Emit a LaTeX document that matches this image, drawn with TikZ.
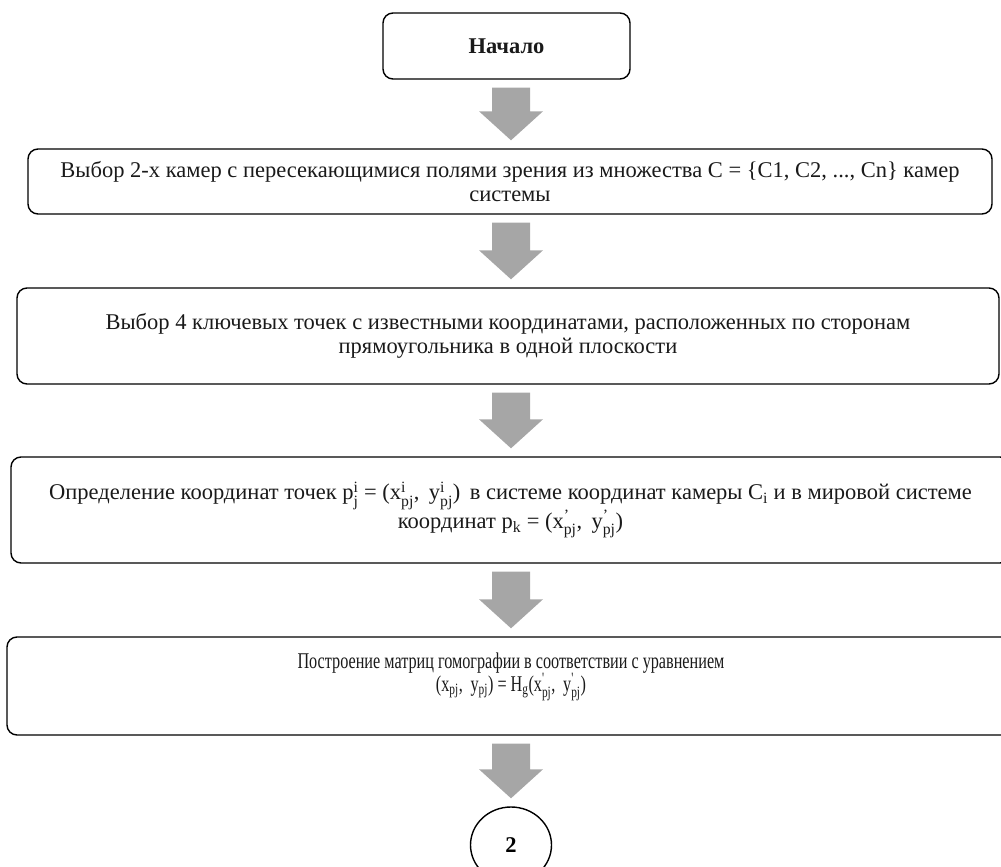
\documentclass[tikz,border=0pt]{standalone}
\definecolor{arrowgray}{HTML}{A6A6A6}
\definecolor{textgray}{HTML}{1A1A1A}
\usepackage{amsmath}
\usepackage{fontspec}
\setmainfont{Liberation Serif}
\newfontfamily\narrowfont[FakeStretch=0.72]{Liberation Serif}
\usetikzlibrary{positioning, shapes.geometric, calc}

% upright sup/sub pair in text font
\newcommand{\supsub}[2]{$^{\text{#1}}_{\text{#2}}$}

\begin{document}
\begin{tikzpicture}[
    x=1pt, y=-1pt,
    stepbox/.style={draw, rounded corners=10pt, line width=1.4pt,
                    align=center, inner sep=0pt, text=textgray,
                    font=\fontsize{22.5}{24}\selectfont},
    connector/.style={draw, ellipse, line width=1.4pt, inner sep=0pt,
                      minimum width=81pt, minimum height=76pt,
                      font=\fontsize{22.5}{24}\selectfont\bfseries},
    blockarrow/.style={fill=arrowgray, draw=none}
  ]
    \useasboundingbox (0,0) rectangle (1001,867);

    % Start
    \node[stepbox, minimum width=247pt, minimum height=66pt] (start)
      at (506.5,46) {\textbf{Начало}};

    % Steps
    \node[stepbox, minimum width=964pt, minimum height=65pt] (S-1)
      at (510,181.5)
      {Выбор 2-х камер с пересекающимися полями зрения из множества C = \{C1, C2, ..., Cn\} камер\\
       системы};
    \node[stepbox, minimum width=982pt, minimum height=96pt] (S-2)
      at (508,336)
      {Выбор 4 ключевых точек с известными координатами, расположенных по сторонам\\
       прямоугольника в одной плоскости};
    \node[stepbox, minimum width=999pt, minimum height=106pt] (S-3)
      at (510.5,510)
      {Определение координат точек p\supsub{i}{j} = (x\supsub{i}{pj},\ \,y\supsub{i}{pj})\ \,в системе координат камеры C$_{\text{i}}$ и в мировой системе\\
       координат p$_{\text{k}}$ = (x\supsub{'}{pj},\ \,y\supsub{'}{pj})};
    \node[stepbox, minimum width=1008pt, minimum height=98pt] (S-4)
      at (511,686)
      {\narrowfont Построение матриц гомографии в соответствии с уравнением\\[-1pt]
       \narrowfont (x$_{\text{pj}}$,\ \,y$_{\text{pj}}$) = H$_{\text{g}}$(x\supsub{'}{pj},\ \,y\supsub{'}{pj})\\[4pt]};

    % Off-page connector
    \node[connector] (next) at (511,845) {2};

    % Block arrows, all on the connector's axis
    \foreach \a/\b in {start/S-1, S-1/S-2, S-2/S-3, S-3/S-4, S-4/next} {
      \coordinate (top) at (\a.south -| next);
      \coordinate (tip) at (\b.north -| next);
      \path[blockarrow]
        ($(top)+(-19,8)$) -- ($(top)+(19,8)$) -- ($(tip)+(19,-37)$)
        -- ($(tip)+(32,-37)$) -- ($(tip)+(0,-8)$) -- ($(tip)+(-32,-37)$)
        -- ($(tip)+(-19,-37)$) -- cycle;
    }
\end{tikzpicture}
\end{document}
